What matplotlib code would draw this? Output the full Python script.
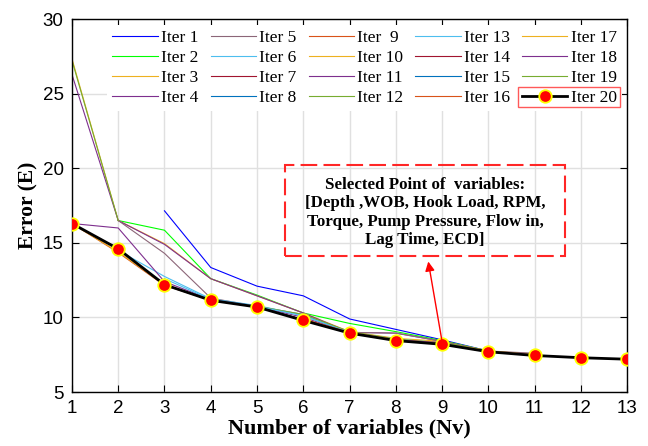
import numpy as np
import matplotlib
matplotlib.use("Agg")
import matplotlib.pyplot as plt
from matplotlib.patches import Rectangle

nan = np.nan
nv = [1, 2, 3, 4, 5, 6, 7, 8, 9, 10, 11, 12, 13]

# error per number of variables, one list per iteration (nan = not evaluated)
iter01 = [nan, nan, 17.15, 13.35, 12.1, 11.45, 9.9, 9.2, 8.5, 7.75, nan, nan, nan]
iter02 = [nan, 16.5, 15.85, 12.6, 11.5, 10.3, 9.6, 9.05, 8.45, 7.75, nan, nan, nan]
iter03 = [27.35, 16.5, 14.95, 12.6, 11.45, 10.3, 9.05, 8.6, 8.4, 7.75, 7.55, nan, nan]
iter04 = [26.3, 16.5, 14.9, 12.6, 11.45, 10.3, 9.0, 8.95, 8.4, 7.7, nan, nan, nan]
iter05 = [nan, 16.5, 14.3, 11.3, 10.75, 10.2, 9.0, 8.95, 8.4, 7.75, 7.6, nan, nan]
iter06 = [nan, 14.5, 12.75, 11.25, 10.8, 10.15, 9.0, 8.55, 8.3, 7.7, nan, nan, nan]
iter07 = [16.3, 14.6, 12.2, 11.15, 10.7, 9.85, 9.0, 8.5, 8.25, 7.7, nan, nan, nan]
iter08 = [nan, nan, nan, 11.15, 10.7, 9.85, 8.95, 8.5, 8.25, 7.7, 7.45, nan, nan]
iter09 = [16.3, 14.35, 12.15, 11.15, 10.7, 9.85, 8.95, 8.45, 8.2, 7.7, nan, nan, nan]
iter10 = [16.3, 14.4, 12.2, 11.15, 10.7, 9.85, 8.95, 8.45, 8.2, 7.7, nan, nan, nan]
iter11 = [16.3, 16.0, 12.4, 11.2, 10.75, 10.0, 9.0, 8.5, 8.25, 7.7, nan, nan, nan]
iter12 = [nan, nan, nan, nan, 10.75, 10.2, 9.05, 8.55, 8.3, 7.75, nan, nan, nan]
iter13 = [nan, nan, 12.6, 11.2, 10.75, 10.1, 9.0, 8.5, 8.25, 7.7, nan, nan, nan]
iter14 = [nan, nan, nan, 11.15, 10.7, 9.85, 8.95, 8.45, 8.2, 7.7, nan, nan, nan]
iter15 = [nan, nan, nan, nan, 10.7, 9.85, 8.95, 8.45, 8.2, 7.7, 7.45, nan, nan]
iter16 = [nan, nan, nan, nan, nan, 9.9, 9.0, 8.5, 8.3, 7.7, nan, nan, nan]
iter17 = [nan, nan, nan, nan, nan, nan, 9.0, 8.5, 8.3, 7.75, 7.5, nan, nan]
iter18 = [nan, nan, nan, nan, nan, nan, nan, 8.5, 8.3, 7.7, 7.5, nan, nan]
iter19 = [27.25, 16.5, nan, nan, nan, nan, nan, nan, 8.35, 7.7, 7.45, nan, nan]
iter20 = [16.3, 14.6, 12.2, 11.15, 10.7, 9.8, 8.95, 8.45, 8.2, 7.7, 7.45, 7.3, 7.2]

labels = ["Iter 1", "Iter 2", "Iter 3", "Iter 4", "Iter 5", "Iter 6", "Iter 7",
          "Iter 8", "Iter  9", "Iter 10", "Iter 11", "Iter 12", "Iter 13",
          "Iter 14", "Iter 15", "Iter 16", "Iter 17", "Iter 18", "Iter 19"]
series = [iter01, iter02, iter03, iter04, iter05, iter06, iter07, iter08, iter09,
          iter10, iter11, iter12, iter13, iter14, iter15, iter16, iter17, iter18, iter19]

colors = [(0, 0, 1), (0, 1, 0), (0.929, 0.694, 0.125), (0.494, 0.184, 0.556),
          (0.55, 0.4, 0.47), (0.301, 0.745, 0.933), (0.635, 0.078, 0.184),
          (0, 0.447, 0.741), (0.85, 0.325, 0.098), (0.929, 0.694, 0.125),
          (0.494, 0.184, 0.556), (0.466, 0.674, 0.188), (0.301, 0.745, 0.933),
          (0.635, 0.078, 0.184), (0, 0.447, 0.741), (0.85, 0.325, 0.098),
          (0.929, 0.694, 0.125), (0.494, 0.184, 0.556), (0.466, 0.674, 0.188)]

serif = "Liberation Serif"
sans = "Liberation Sans"

fig = plt.figure(figsize=(6.48, 4.46), dpi=100)
ax = fig.add_axes([0.111, 0.121, 0.857, 0.836])

for y, c, lab in zip(series, colors, labels):
    ax.plot(nv, y, color=c, lw=0.8, label=lab)
ax.plot(nv, iter20, color="black", lw=2, marker="o", markersize=9,
        markerfacecolor="red", markeredgecolor="yellow", markeredgewidth=1.3,
        label="Iter 20", zorder=4)

ax.set_xlim(1, 13)
ax.set_ylim(5, 30)
ax.set_xticks(nv)
ax.set_yticks([5, 10, 15, 20, 25, 30])
ax.grid(True, color=(0.88, 0.88, 0.88), lw=1)
ax.set_axisbelow(True)
ax.tick_params(direction="in", length=5, top=True, right=True, labelsize=13.5, pad=6)
for t in ax.get_xticklabels() + ax.get_yticklabels():
    t.set_fontfamily(sans)
for s in ax.spines.values():
    s.set_linewidth(1)

ax.set_xlabel("Number of variables (Nv)", fontfamily=serif, fontweight="bold",
              fontsize=16, labelpad=1)
ax.set_ylabel("Error (E)", fontfamily=serif, fontweight="bold", fontsize=15.5,
              labelpad=3)

leg = ax.legend(ncol=5, loc="upper right", bbox_to_anchor=(0.997, 0.995),
                prop={"family": serif, "size": 12.5}, handlelength=2.6,
                handletextpad=0.2, columnspacing=0.7, labelspacing=0.22,
                borderaxespad=0.2, borderpad=0.3, frameon=True, fancybox=False)
leg.get_frame().set_facecolor("white")
leg.get_frame().set_edgecolor("none")
leg.get_frame().set_alpha(1)

# red box around the last legend entry
ax.add_patch(Rectangle((0.804, 0.765), 0.183, 0.052, transform=ax.transAxes,
                       fill=False, edgecolor=(1, 0.35, 0.35), lw=1, zorder=6))

# selected point callout
ax.add_patch(Rectangle((5.6, 14.1), 6.06, 6.1, fill=False, edgecolor=(1, 0.15, 0.15),
                       lw=1.5, linestyle=(0, (8, 3)), zorder=5))
ax.text(8.63, 17.05,
        "Selected Point of  variables:\n[Depth ,WOB, Hook Load, RPM,\n"
        "Torque, Pump Pressure, Flow in,\nLag Time, ECD]",
        ha="center", va="center", fontfamily=serif, fontweight="bold",
        fontsize=12.2, linespacing=1.2, zorder=5)
ax.annotate("", xy=(8.70, 13.75), xytext=(9, 8.35),
            arrowprops=dict(arrowstyle="-|>", color="red", lw=1,
                            mutation_scale=14, shrinkA=0, shrinkB=0), zorder=5)

fig.savefig("out.png", dpi=100)
